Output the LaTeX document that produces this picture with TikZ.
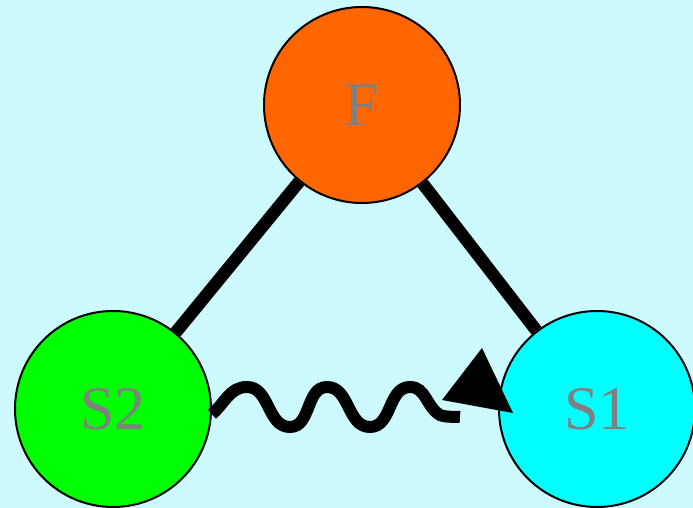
\documentclass[tikz,border=0pt]{standalone}
\usepackage{fontspec}
\setmainfont{Liberation Serif}
\definecolor{bgc}{RGB}{204,250,255}
\definecolor{forange}{RGB}{255,102,0}
\definecolor{sgreen}{RGB}{0,255,0}
\definecolor{scyan}{RGB}{0,255,255}
\definecolor{txtgrey}{RGB}{128,128,128}
\begin{document}
\begin{tikzpicture}[x=1pt,y=1pt,
  ball/.style={circle,draw=black,line width=2pt,minimum size=196pt,inner sep=0pt,
    font=\fontsize{62}{62}\selectfont,text=txtgrey},
  bond/.style={line width=12.5pt,black},
  wave/.style={line width=12pt,black}]
\fill[bgc] (0,0) rectangle (693,508);
\useasboundingbox (0,0) rectangle (693,508);
\node[ball,fill=forange] (F) at (362,403) {F};
\node[ball,fill=sgreen] (S2) at (113,99) {S2};
\node[ball,fill=scyan] (S1) at (597,99) {S1};
\draw[bond] (F) -- (S2);
\draw[bond] (F) -- (S1);
\coordinate (wend) at (460,91);
\draw[wave] (S2.-3) to[out=40,in=180] (247,121) to[out=0,in=180] (290,81)
  to[out=0,in=180] (327,121) to[out=0,in=180] (370,81) to[out=0,in=180] (410,121)
  to[out=0,in=150] (440,93) to[out=-20,in=175] (wend);
\coordinate (tipA) at (482,160);
\coordinate (tipB) at (442,108);
\coordinate (tipC) at (513,95);
\fill[black] (tipA) -- (tipB) -- (tipC) -- cycle;
\end{tikzpicture}
\end{document}
